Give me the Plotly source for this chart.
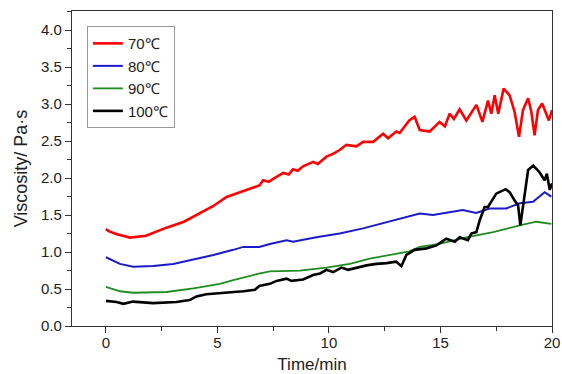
import plotly.graph_objects as go

# ---- data ----
x70 = [0, 0.15, 0.5, 1.08, 1.8, 2.72, 3.5, 4.21, 4.8, 5.41, 6.3, 6.88, 7.05, 7.3, 7.5, 7.95, 8.2,
       8.39, 8.6, 8.84, 9.29, 9.5, 9.89, 10.2, 10.48, 10.78, 11.23, 11.53, 11.98, 12.2, 12.43,
       12.65, 13.02, 13.17, 13.4, 13.6, 13.84, 14.07, 14.52, 14.96, 15.2, 15.41, 15.6, 15.86, 16.16,
       16.4, 16.61, 16.88, 17.13, 17.28, 17.43, 17.59, 17.83, 18.1, 18.32, 18.52, 18.7, 18.93,
       19.07, 19.22, 19.37, 19.56, 19.86, 20.0]
y70 = [1.31, 1.28, 1.24, 1.196, 1.22, 1.33, 1.41, 1.52, 1.62, 1.745, 1.84, 1.90, 1.97, 1.95, 1.99,
       2.07, 2.05, 2.12, 2.10, 2.16, 2.22, 2.19, 2.29, 2.33, 2.38, 2.45, 2.43, 2.49, 2.49, 2.55,
       2.60, 2.54, 2.63, 2.61, 2.70, 2.78, 2.83, 2.65, 2.63, 2.76, 2.70, 2.87, 2.80, 2.93, 2.78,
       2.90, 2.99, 2.76, 3.05, 2.87, 3.12, 2.87, 3.21, 3.12, 2.90, 2.56, 2.92, 3.08, 2.90, 2.58,
       2.92, 3.01, 2.78, 2.92]

x80 = [0, 0.63, 1.22, 2.12, 3.02, 3.92, 4.82, 5.71, 6.16, 6.88, 7.35, 8.1, 8.39, 9.44, 10.48,
       11.53, 12.43, 13.17, 13.6, 14.07, 14.66, 15.26, 16.0, 16.6, 17.2, 17.95, 18.55, 19.15,
       19.67, 19.97]
y80 = [0.93, 0.84, 0.80, 0.81, 0.84, 0.90, 0.96, 1.03, 1.07, 1.07, 1.11, 1.16, 1.14, 1.20, 1.25,
       1.32, 1.39, 1.45, 1.48, 1.52, 1.50, 1.53, 1.57, 1.53, 1.59, 1.59, 1.66, 1.68, 1.81, 1.75]

x90 = [0, 0.63, 1.22, 2.72, 3.92, 4.66, 5.11, 5.71, 6.3, 6.75, 7.35, 8.69, 9.89, 10.93, 11.83,
       12.72, 13.6, 14.07, 14.96, 16.16, 17.36, 18.55, 19.3, 19.97]
y90 = [0.53, 0.47, 0.45, 0.46, 0.51, 0.55, 0.57, 0.62, 0.67, 0.70, 0.74, 0.75, 0.79, 0.84, 0.91,
       0.96, 1.01, 1.07, 1.11, 1.20, 1.27, 1.36, 1.41, 1.38]

x100 = [0, 0.48, 0.78, 1.22, 2.12, 3.16, 3.76, 4.06, 4.5, 5.41, 6.16, 6.68, 6.88, 7.35, 7.65, 8.1,
        8.32, 8.84, 9.29, 9.6, 9.89, 10.19, 10.56, 10.86, 11.23, 11.68, 12.13, 12.58, 13.02, 13.25,
        13.47, 13.84, 14.37, 14.82, 15.26, 15.64, 15.86, 16.23, 16.38, 16.61, 16.76, 16.98, 17.13,
        17.5, 17.92, 18.1, 18.32, 18.48, 18.58, 18.7, 18.93, 19.16, 19.44, 19.67, 19.77, 19.9, 20.0]
y100 = [0.34, 0.325, 0.30, 0.33, 0.31, 0.325, 0.35, 0.40, 0.43, 0.45, 0.47, 0.49, 0.54, 0.57, 0.61,
        0.64, 0.61, 0.63, 0.69, 0.71, 0.76, 0.73, 0.79, 0.76, 0.79, 0.82, 0.84, 0.85, 0.87, 0.81,
        0.96, 1.03, 1.05, 1.09, 1.18, 1.14, 1.20, 1.16, 1.25, 1.27, 1.43, 1.61, 1.61, 1.79, 1.85,
        1.81, 1.70, 1.63, 1.36, 1.61, 2.11, 2.17, 2.08, 1.97, 2.06, 1.84, 1.93]

series = [
    ("70℃", x70, y70, "#ff0000", 2.6),
    ("80℃", x80, y80, "#1a1acc", 2.0),
    ("90℃", x90, y90, "#1e8c1e", 1.8),
    ("100℃", x100, y100, "#000000", 2.6),
]

fig = go.Figure()
for name, xs, ys, col, w in series:
    fig.add_trace(go.Scatter(x=xs, y=ys, mode="lines", name=name,
                             line=dict(color=col, width=w)))

font = "Arial, 'Liberation Sans', sans-serif"
axis_common = dict(showline=True, linecolor="#333333", linewidth=1.3, mirror=True,
                   ticks="outside", ticklen=6, tickwidth=1.2, tickcolor="#333333",
                   showgrid=False, zeroline=False, automargin=False,
                   tickfont=dict(family=font, size=15, color="#222222"))

fig.update_layout(
    width=562, height=374,
    margin=dict(l=72, r=10, t=11, b=48),
    paper_bgcolor="white", plot_bgcolor="white",
    font=dict(family=font, color="#222222"),
    xaxis=dict(range=[-1.52, 20], dtick=5, tick0=0, ticklabelstandoff=-3,
               minor=dict(ticks="outside", ticklen=4, dtick=2.5, tick0=0, tickcolor="#333333"),
               title=dict(text="Time/min", font=dict(family=font, size=17), standoff=7),
               **axis_common),
    yaxis=dict(range=[0, 4.26], dtick=0.5, tick0=0, tickformat=".1f",
               minor=dict(ticks="outside", ticklen=4, dtick=0.25, tick0=0, tickcolor="#333333"),
               title=dict(text="Viscosity/ Pa·s", font=dict(family=font, size=18), standoff=8),
               **axis_common),
    legend=dict(x=0.031, y=0.952, xanchor="left", yanchor="top",
                bordercolor="#999999", borderwidth=1, bgcolor="white",
                font=dict(family=font, size=15), tracegroupgap=0),
    showlegend=True,
)

fig.write_html("out.html")
